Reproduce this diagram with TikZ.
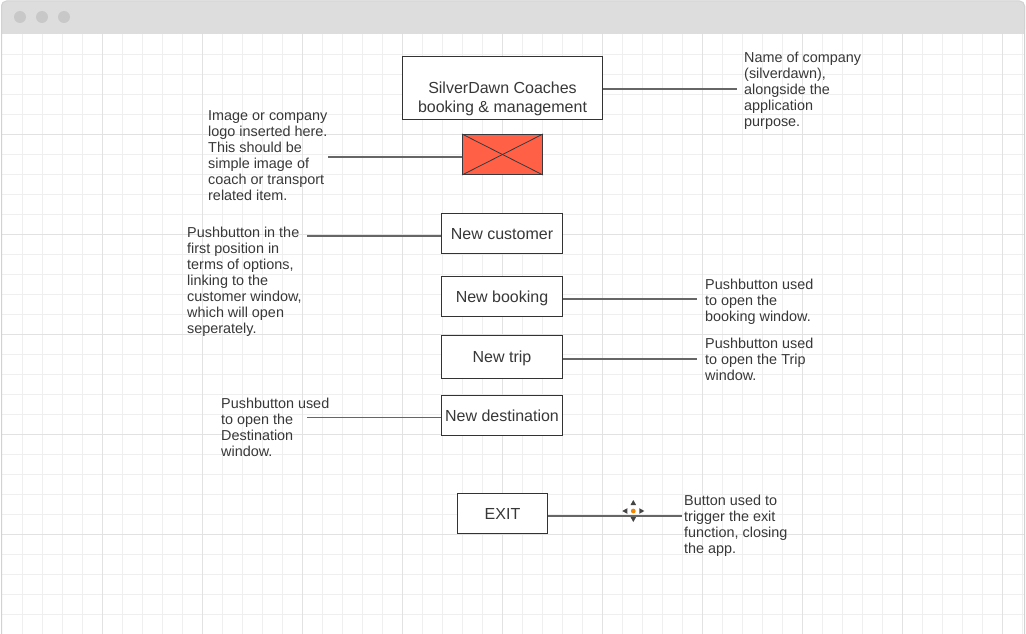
\documentclass[tikz,border=0pt]{standalone}
\usepackage{fontspec}
\setmainfont{Liberation Sans}
\definecolor{txt}{HTML}{383838}
\definecolor{boxc}{HTML}{333333}
\definecolor{connc}{HTML}{666666}
\definecolor{gridminor}{HTML}{EFEFEF}
\definecolor{gridmajor}{HTML}{E2E2E2}
\definecolor{barc}{HTML}{DDDDDD}
\definecolor{dotc}{HTML}{C8C8C8}
\definecolor{framec}{HTML}{D2D2D2}
\definecolor{imgfill}{HTML}{FF6046}
\definecolor{imgline}{HTML}{36393D}
\definecolor{iconorange}{HTML}{F08705}
\definecolor{icondark}{HTML}{444444}
\begin{document}
\begin{tikzpicture}[x=1pt,y=-1pt,
  btn/.style={draw=boxc, line width=1pt, fill=white, text=txt, inner sep=0pt,
    font=\fontsize{16}{19}\selectfont, text height=11.5pt, text depth=0pt},
  titlebox/.style={draw=boxc, line width=1pt, fill=white, text=txt, inner sep=0pt,
    align=center, font=\fontsize{16}{19}\selectfont},
  imgbox/.style={draw=imgline, line width=1pt, fill=imgfill, inner sep=0pt},
  note/.style={anchor=north west, align=left, inner sep=0pt, text=txt,
    font=\fontsize{14.4}{16}\selectfont},
  conn/.style={draw=connc, line width=1.6pt},
  gminor/.style={draw=gridminor, line width=1pt},
  gmajor/.style={draw=gridmajor, line width=1pt},
  tri/.style={fill=icondark}
]
\useasboundingbox (0,0) rectangle (1026,634);
\fill[white] (0,0) rectangle (1026,634);
% grid
\foreach \x in {22.5,42.5,...,1022.5} {\draw[gminor] (\x,34) -- (\x,634);}
\foreach \y in {54.5,74.5,...,634.5} {\draw[gminor] (2,\y) -- (1025,\y);}
\foreach \x in {102.5,202.5,...,1002.5} {\draw[gmajor] (\x,34) -- (\x,634);}
\foreach \y in {134.5,234.5,...,634.5} {\draw[gmajor] (2,\y) -- (1025,\y);}
% window bar
\fill[barc, rounded corners=5pt] (1,1) rectangle (1025,34);
\fill[barc] (1,20) rectangle (1025,34);
\draw[framec, line width=1pt, rounded corners=5pt] (1.5,640) -- (1.5,1) -- (1024.5,1) -- (1024.5,640);
\fill[dotc] (20,17) circle (6);
\fill[dotc] (42,17) circle (6);
\fill[dotc] (64,17) circle (6);

% main nodes
\node[titlebox, minimum width=200pt, minimum height=63pt] (title) at (502.5,88)
  {\rule{0pt}{33pt}SilverDawn Coaches\\booking \& management\rule[-4pt]{0pt}{4pt}};
\node[imgbox, minimum width=80pt, minimum height=40pt] (img) at (502.5,154.5) {};
\draw[imgline, line width=0.8pt] (img.north west) -- (img.south east);
\draw[imgline, line width=0.8pt] (img.north east) -- (img.south west);
\node[btn, minimum width=121pt, minimum height=40pt] (cust) at (502,233.5) {New customer};
\node[btn, minimum width=121pt, minimum height=40pt] (book) at (502,296.5) {New booking};
\node[btn, minimum width=121pt, minimum height=43pt] (trip) at (502,357) {New trip};
\node[btn, minimum width=121pt, minimum height=40pt] (dest) at (502,415.5) {New destination};
\node[btn, minimum width=90pt, minimum height=40pt] (exit) at (502.5,513.5) {EXIT};

% annotations
\node[note] (n1) at (744,51.5) {\rule{0pt}{11pt}Name of company\\(silverdawn),\\alongside the\\application\\purpose.};
\node[note] (n2) at (208,109) {\rule{0pt}{11pt}Image or company\\logo inserted here.\\This should be\\simple image of\\coach or transport\\related item.};
\node[note] (n3) at (187,226) {\rule{0pt}{11pt}Pushbutton in the\\first position in\\terms of options,\\linking to the\\customer window,\\which will open\\seperately.};
\node[note] (n4) at (705,278) {\rule{0pt}{11pt}Pushbutton used\\to open the\\booking window.};
\node[note] (n5) at (705,337) {\rule{0pt}{11pt}Pushbutton used\\to open the Trip\\window.};
\node[note] (n6) at (221,397) {\rule{0pt}{11pt}Pushbutton used\\to open the\\Destination\\window.};
\node[note] (n7) at (684,494) {\rule{0pt}{11pt}Button used to\\trigger the exit\\function, closing\\the app.};

% connectors
\coordinate (e1) at (737,89);
\coordinate (e2) at (328,157);
\coordinate (e3) at (307,236);
\coordinate (e4) at (697,299);
\coordinate (e5) at (697,359);
\coordinate (e6) at (307,417.5);
\coordinate (e7) at (682,516);
\draw[conn] (e1 -| title.east) -- (e1);
\draw[conn] (e2) -- (e2 -| img.west);
\draw[conn] (e3) -- (e3 -| cust.west);
\draw[conn] (e4 -| book.east) -- (e4);
\draw[conn] (e5 -| trip.east) -- (e5);
\draw[conn] (e6) -- (e6 -| dest.west);
\draw[conn] (e7 -| exit.east) -- (e7);

% move cursor icon
\coordinate (mv) at (633.3,511);
\fill[iconorange] (mv) circle (2.4);
\fill[tri] ([shift={(0,-11)}]mv) -- ([shift={(2.8,-6)}]mv) -- ([shift={(-2.8,-6)}]mv) -- cycle;
\fill[tri] ([shift={(0,11)}]mv) -- ([shift={(2.8,6)}]mv) -- ([shift={(-2.8,6)}]mv) -- cycle;
\fill[tri] ([shift={(-11,0)}]mv) -- ([shift={(-6,2.8)}]mv) -- ([shift={(-6,-2.8)}]mv) -- cycle;
\fill[tri] ([shift={(11,0)}]mv) -- ([shift={(6,2.8)}]mv) -- ([shift={(6,-2.8)}]mv) -- cycle;
\end{tikzpicture}
\end{document}
